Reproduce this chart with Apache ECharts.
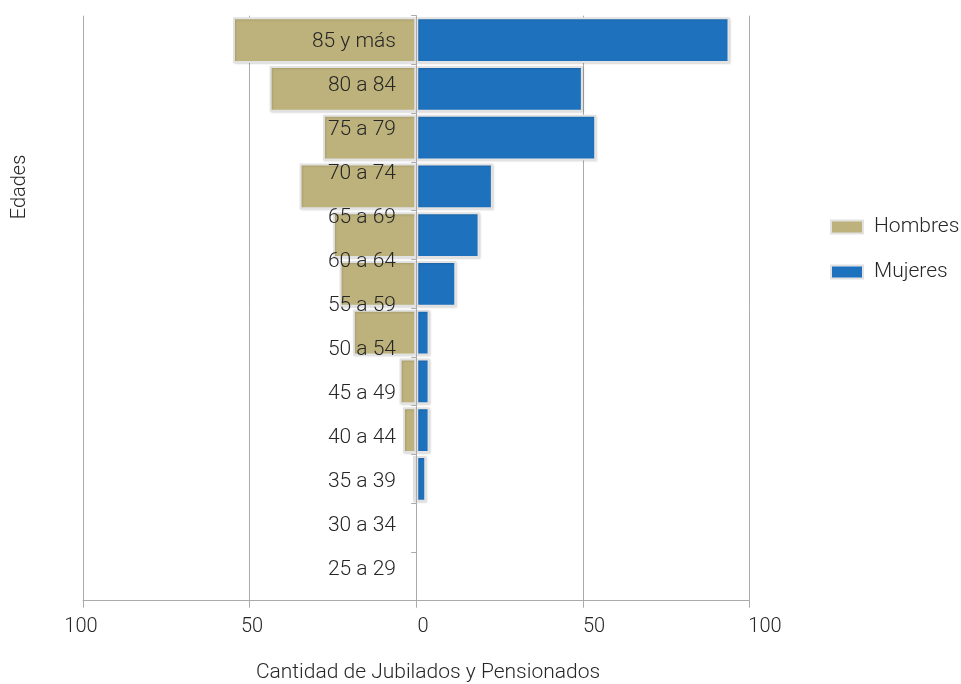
<!DOCTYPE html>
<html>
<head>
<meta charset="utf-8">
<title>Jubilados y Pensionados por edad</title>
<script src="https://cdn.jsdelivr.net/npm/echarts@6/dist/echarts.min.js"></script>
<style>
  html, body { margin: 0; padding: 0; background: #fff; }
  #main { width: 961px; height: 684px; }
</style>
</head>
<body>
<div id="main"></div>
<script>
// grupos de edad (etiquetas del eje)
var ageLabels = ['85 y más', '80 a 84', '75 a 79', '70 a 74', '65 a 69', '60 a 64',
  '55 a 59', '50 a 54', '45 a 49', '40 a 44', '35 a 39', '30 a 34', '25 a 29'];
// franjas donde se dibujan las barras (12 en el original)
var barBands = ageLabels.slice(0, 12);
var hombres = [55, 44, 28, 35, 25, 23, 19, 5, 4, 1, 0, 0];
var mujeres = [94, 50, 54, 23, 19, 12, 4, 4, 4, 3, 0, 0];
var xTicks = [-100, -50, 0, 50, 100];

var FONT = 'Roboto';
var TEXT = '#262626';

var myChart = echarts.init(document.getElementById('main'));

var barStyle = function (color) {
  return {
    color: color,
    borderColor: '#e2e2e2',
    borderWidth: 2,
    shadowColor: 'rgba(0,0,0,0.12)',
    shadowBlur: 2,
    shadowOffsetX: 1,
    shadowOffsetY: 1
  };
};

var option = {
  animation: false,
  textStyle: { fontFamily: FONT },
  legend: {
    orient: 'vertical',
    left: 830,
    top: 216,
    padding: 0,
    itemWidth: 32,
    itemHeight: 13,
    itemGap: 23,
    icon: 'rect',
    textStyle: { fontFamily: FONT, fontSize: 21, fontWeight: 300, color: TEXT, lineHeight: 22, padding: [0, 0, 0, 6] },
    data: ['Hombres', 'Mujeres']
  },
  grid: [
    // barras
    { left: 83, right: 211.5, top: 15.7, bottom: 83.3, outerBoundsMode: 'none' },
    // solo etiquetas
    { left: 81, right: 196, top: 19.7, bottom: 92, outerBoundsMode: 'none' }
  ],
  xAxis: [
    {
      type: 'value', gridIndex: 0, min: -100, max: 100, interval: 50,
      axisLine: { show: true, lineStyle: { color: '#aaa' } },
      axisTick: { show: true, length: 7, lineStyle: { color: '#aaa' } },
      axisLabel: { show: false },
      splitLine: { show: true, lineStyle: { color: '#aaa', width: 1 } }
    },
    {
      type: 'value', gridIndex: 1, min: xTicks[0], max: xTicks[xTicks.length - 1], interval: 50,
      axisLine: { show: false }, axisTick: { show: false }, splitLine: { show: false },
      axisLabel: {
        margin: 25, fontSize: 20, fontWeight: 300, color: TEXT, fontFamily: FONT,
        formatter: function (v) { return Math.abs(v); }
      }
    }
  ],
  yAxis: [
    {
      type: 'category', gridIndex: 0, data: barBands, inverse: true, z: 5,
      axisLine: { onZero: true, lineStyle: { color: '#aaa' } },
      axisTick: { show: true, length: 5, lineStyle: { color: '#aaa' } },
      axisLabel: { show: false }
    },
    {
      type: 'category', gridIndex: 1, data: ageLabels, inverse: true, z: 6,
      position: 'left', offset: -342,
      axisLine: { show: false, onZero: false }, axisTick: { show: false },
      axisLabel: { margin: 27, fontSize: 21, fontWeight: 300, color: TEXT, fontFamily: FONT }
    }
  ],
  graphic: [
    {
      type: 'text',
      x: 20, y: 187,
      rotation: Math.PI / 2,
      style: {
        text: 'Edades', x: 0, y: 0, align: 'center', verticalAlign: 'middle',
        font: '300 20px Roboto', fill: TEXT
      }
    },
    {
      type: 'text',
      style: {
        text: 'Cantidad de Jubilados y Pensionados', x: 428, y: 673,
        align: 'center', verticalAlign: 'middle', font: '300 21px Roboto', fill: TEXT
      }
    }
  ],
  series: [
    {
      name: 'Hombres', type: 'bar', stack: 'total', xAxisIndex: 0, yAxisIndex: 0,
      barCategoryGap: '6%',
      itemStyle: barStyle('#bdb27b'),
      data: hombres.map(function (v) { return v === 0 ? null : -v; })
    },
    {
      name: 'Mujeres', type: 'bar', stack: 'total', xAxisIndex: 0, yAxisIndex: 0,
      barCategoryGap: '6%',
      itemStyle: barStyle('#1e72bd'),
      data: mujeres.map(function (v) { return v === 0 ? null : v; })
    }
  ]
};

myChart.setOption(option);
window.onresize = myChart.resize;
</script>
</body>
</html>
